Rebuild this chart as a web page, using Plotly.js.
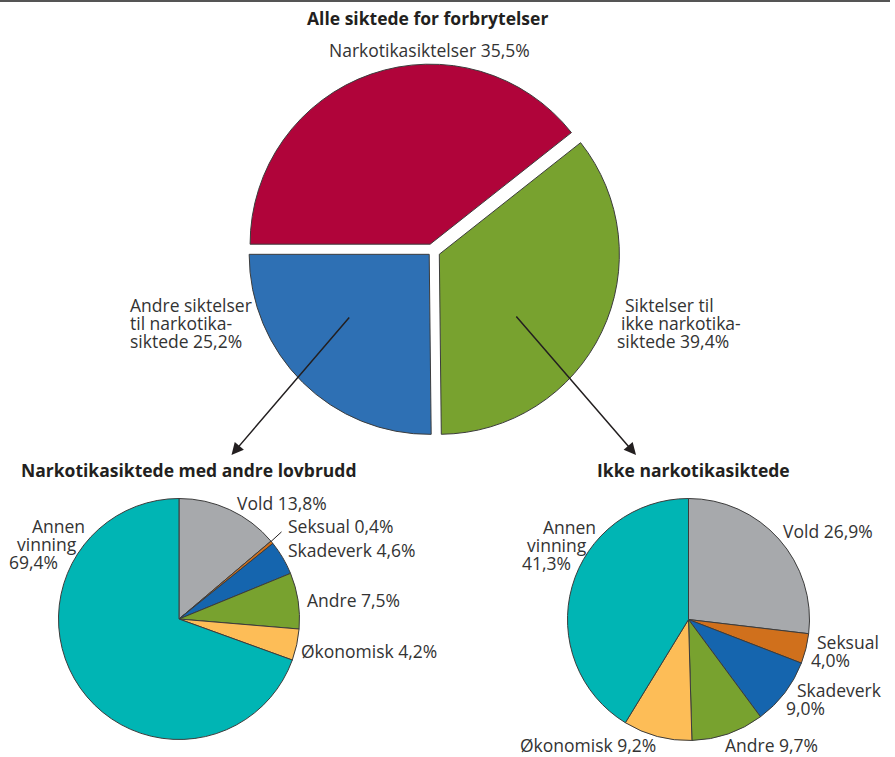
<!DOCTYPE html>
<html>
<head>
<meta charset="utf-8">
<script src="https://cdn.plot.ly/plotly-3.0.1.min.js"></script>
<style>html,body{margin:0;padding:0;background:#fff;}#chart{width:895px;height:757px;}</style>
</head>
<body>
<div id="chart"></div>
<script>
// ---- data ----
var topCategories = ['Narkotikasiktelser', 'Siktelser til ikke narkotikasiktede', 'Andre siktelser til narkotikasiktede'];
// shares as printed in the labels
var topLabelValues = [35.5, 39.4, 25.2];
// slice sizes as drawn in the picture (the red and green slices are drawn with swapped sizes)
var topSliceValues = [39.4, 35.5, 25.2];
var subCategories = ['Vold', 'Seksual', 'Skadeverk', 'Andre', 'Økonomisk', 'Annen vinning'];
var narkValues = [13.8, 0.4, 4.6, 7.5, 4.2, 69.4];
var ikkeValues = [26.9, 4.0, 9.0, 9.7, 9.2, 41.3];
var titles = ['Alle siktede for forbrytelser', 'Narkotikasiktede med andre lovbrudd', 'Ikke narkotikasiktede'];

// ---- styling ----
var W = 895, H = 757;
var topColors = ['#b0043a', '#78a22f', '#2e70b4'];
var subColors = ['#a7a9ac', '#d0701c', '#1565ae', '#78a22f', '#fdbd57', '#00b5b4'];
var FONT = 'Open Sans, Noto Sans, sans-serif';
var TXT = '#333333';
var FS = 17.5;
var lineStyle = {color: '#3c3c3c', width: 1};

function pct(v) { return v.toFixed(1).replace('.', ',') + '%'; }
function px(x) { return x / W; }
function py(y) { return 1 - y / H; }
function dom(cx, cy, half) {
  return {x: [px(cx - half), px(cx + half)], y: [py(cy + half), py(cy - half)]};
}

var traces = [
  {type: 'pie', labels: topCategories, values: topSliceValues, sort: false, direction: 'clockwise',
   rotation: -90, pull: [0.04, 0.042, 0.026], textinfo: 'none', hoverinfo: 'none',
   marker: {colors: topColors, line: lineStyle}, domain: dom(432.5, 251, 187.6), showlegend: false},
  {type: 'pie', labels: subCategories, values: narkValues, sort: false, direction: 'clockwise',
   rotation: 0, textinfo: 'none', hoverinfo: 'none',
   marker: {colors: subColors, line: lineStyle}, domain: dom(179, 619, 120.5), showlegend: false},
  {type: 'pie', labels: subCategories, values: ikkeValues, sort: false, direction: 'clockwise',
   rotation: 0, textinfo: 'none', hoverinfo: 'none',
   marker: {colors: subColors, line: lineStyle}, domain: dom(688.5, 619.5, 121), showlegend: false}
];

function ann(text, x, y, xa, opts) {
  opts = opts || {};
  return {xref: 'paper', yref: 'paper', x: px(x), y: py(y), text: text, showarrow: false,
          xanchor: xa || 'left', yanchor: 'middle', borderpad: 0,
          font: {family: FONT, size: opts.size || FS, color: opts.color || TXT}};
}
function title(text, x, y, xa) {
  return ann('<b>' + text + '</b>', x, y, xa, {size: 17.5, color: '#231f20'});
}
function arrow(hx, hy, tx, ty, head) {
  return {xref: 'paper', yref: 'paper', x: px(hx), y: py(hy), ax: tx - hx, ay: ty - hy,
          text: '', showarrow: true, arrowhead: head, arrowsize: 1.6, arrowwidth: 1.5,
          arrowcolor: '#231f20', standoff: 0, startstandoff: 0};
}

var annotations = [
  title(titles[0], 427, 18, 'center'),
  title(titles[1], 20, 470, 'left'),
  title(titles[2], 596, 470, 'left'),
  // top pie labels
  ann(topCategories[0] + ' ' + pct(topLabelValues[0]), 429, 50, 'center'),
  ann('Andre siktelser', 129, 305), ann('til narkotika-', 129, 323), ann('siktede ' + pct(topLabelValues[2]), 129, 341.5),
  ann('Siktelser til', 624, 305), ann('ikke narkotika-', 620, 323), ann('siktede ' + pct(topLabelValues[1]), 616, 341.5),
  // left sub pie labels
  ann(subCategories[0] + ' ' + pct(narkValues[0]), 236, 503),
  ann(subCategories[1] + ' ' + pct(narkValues[1]), 287, 525.5),
  ann(subCategories[2] + ' ' + pct(narkValues[2]), 287, 550),
  ann(subCategories[3] + ' ' + pct(narkValues[3]), 306, 599.5),
  ann(subCategories[4] + ' ' + pct(narkValues[4]), 300, 651),
  ann('Annen', 31, 525.5), ann('vinning', 16, 543.5), ann(pct(narkValues[5]), 8, 561.5),
  // right sub pie labels
  ann(subCategories[0] + ' ' + pct(ikkeValues[0]), 782, 531),
  ann(subCategories[1], 816, 641.5), ann(pct(ikkeValues[1]), 810, 659.5),
  ann(subCategories[2], 796, 690), ann(pct(ikkeValues[2]), 785, 707.5),
  ann(subCategories[3] + ' ' + pct(ikkeValues[3]), 724, 744.5),
  ann(subCategories[4] + ' ' + pct(ikkeValues[4]), 519, 744.5),
  ann('Annen', 542, 526.5), ann('vinning', 526, 544.5), ann(pct(ikkeValues[5]), 521, 562.5),
  // arrows
  arrow(231.5, 455, 350.5, 316, 2),
  arrow(636, 455, 515, 315, 2),
  // leader line for Seksual (left)
  arrow(271, 541.5, 283, 530.5, 0)
];
annotations[annotations.length - 1].arrowwidth = 1;

var layout = {
  width: W, height: H,
  margin: {l: 0, r: 0, t: 0, b: 0},
  paper_bgcolor: '#ffffff', plot_bgcolor: '#ffffff',
  showlegend: false,
  font: {family: FONT, color: TXT},
  annotations: annotations,
  shapes: [{type: 'line', xref: 'paper', yref: 'paper', x0: 0, x1: px(890), y0: py(1), y1: py(1),
            line: {color: '#555555', width: 2}}]
};

Plotly.newPlot('chart', traces, layout, {displayModeBar: false, staticPlot: true});
</script>
</body>
</html>
